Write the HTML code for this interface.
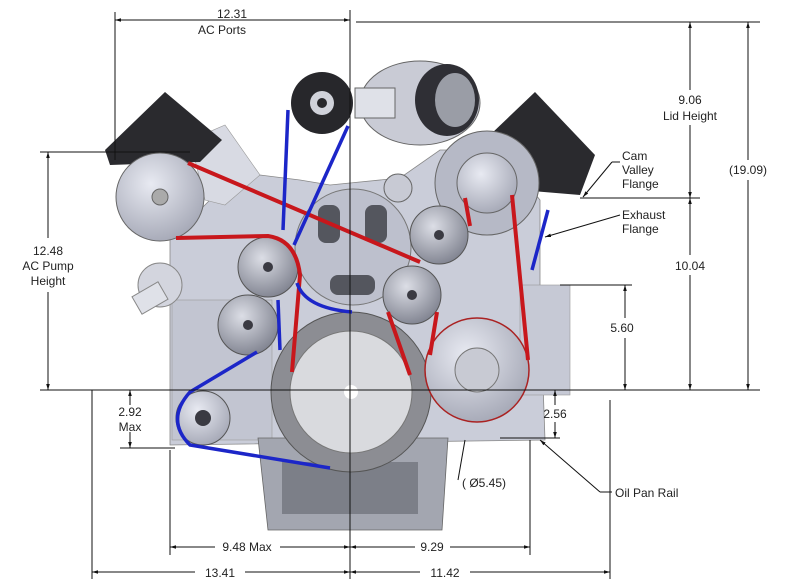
<!DOCTYPE html>
<html><head><style>
html,body{margin:0;padding:0;background:#fff;}
svg{display:block;}
text{font-family:"Liberation Sans",sans-serif;font-size:12px;fill:#222;}
</style></head><body>
<svg width="789" height="579" viewBox="0 0 789 579" xmlns="http://www.w3.org/2000/svg">
<defs>
<radialGradient id="pg" cx="40%" cy="35%" r="70%"><stop offset="0" stop-color="#e8eaf2"/><stop offset="1" stop-color="#a4a7b5"/></radialGradient>
<radialGradient id="ig" cx="40%" cy="35%" r="70%"><stop offset="0" stop-color="#dcdee6"/><stop offset="1" stop-color="#7e818e"/></radialGradient>
<marker id="ar" viewBox="0 0 10 10" refX="10" refY="5" markerWidth="6" markerHeight="6" orient="auto-start-reverse"><path d="M0 2 L10 5 L0 8 Z" fill="#111"/></marker>
</defs>
<!-- engine block -->
<path d="M170 240 L210 200 L260 175 L300 180 L330 185 L400 178 L440 150 L500 150 L540 200 L540 300 L545 440 L170 445 Z" fill="#cacdd9" stroke="#888" stroke-width="0.8"/>
<rect x="172" y="300" width="100" height="140" fill="#c2c5d1" stroke="#999" stroke-width="0.6"/>
<rect x="520" y="285" width="50" height="110" fill="#c6c9d5" stroke="#999" stroke-width="0.6"/>
<!-- oil pan -->
<path d="M258 438 L448 438 L442 530 L268 530 Z" fill="#a3a6b0" stroke="#666" stroke-width="0.8"/>
<rect x="282" y="462" width="136" height="52" fill="#7c7f88"/>
<!-- brackets -->
<polygon points="190,140 225,125 260,175 225,205 205,200" fill="#d8dae3" stroke="#999" stroke-width="0.6"/>
<!-- coil packs -->
<polygon points="105,150 165,92 222,140 200,162 110,165" fill="#2a2a2e"/>
<polygon points="490,135 535,92 595,155 580,195 520,190" fill="#2a2a2e"/>
<!-- water pump housing -->
<circle cx="353" cy="247" r="58" fill="#bdc0cd" stroke="#777"/>
<rect x="318" y="205" width="22" height="38" rx="8" fill="#54565e"/>
<rect x="365" y="205" width="22" height="38" rx="8" fill="#54565e"/>
<rect x="330" y="275" width="45" height="20" rx="8" fill="#54565e"/>
<circle cx="398" cy="188" r="14" fill="#c8cad4" stroke="#666"/>
<!-- thermostat -->
<circle cx="160" cy="285" r="22" fill="#d3d5de" stroke="#888"/>
<rect x="135" y="288" width="30" height="20" fill="#dfe1e8" stroke="#888" transform="rotate(-30 150 298)"/>
<!-- supercharger -->
<ellipse cx="420" cy="103" rx="60" ry="42" fill="#c9cbd5" stroke="#666"/>
<ellipse cx="447" cy="100" rx="32" ry="36" fill="#2f2f35"/>
<ellipse cx="455" cy="100" rx="20" ry="27" fill="#9a9da6"/>
<rect x="355" y="88" width="40" height="30" fill="#dfe1e8" stroke="#666"/>
<!-- top pulley -->
<circle cx="322" cy="103" r="31" fill="#27272b"/>
<circle cx="322" cy="103" r="12" fill="#d0d2da"/>
<circle cx="322" cy="103" r="5" fill="#27272b"/>
<!-- AC pump pulley -->
<circle cx="160" cy="197" r="44" fill="url(#pg)" stroke="#666"/>
<circle cx="160" cy="197" r="8" fill="#aaa" stroke="#666"/>
<!-- alternator -->
<circle cx="487" cy="183" r="52" fill="#b6b9c6" stroke="#666"/>
<circle cx="487" cy="183" r="30" fill="url(#pg)" stroke="#666"/>
<!-- idlers -->
<g stroke="#555">
<circle cx="268" cy="267" r="30" fill="url(#ig)"/>
<circle cx="248" cy="325" r="30" fill="url(#ig)"/>
<circle cx="439" cy="235" r="29" fill="url(#ig)"/>
<circle cx="412" cy="295" r="29" fill="url(#ig)"/>
<circle cx="203" cy="418" r="27" fill="url(#pg)"/>
</g>
<g fill="#3a3a42">
<circle cx="268" cy="267" r="5"/><circle cx="248" cy="325" r="5"/><circle cx="439" cy="235" r="5"/><circle cx="412" cy="295" r="5"/><circle cx="203" cy="418" r="8"/>
</g>
<!-- crank -->
<circle cx="351" cy="392" r="80" fill="#8c8d93" stroke="#555"/>
<circle cx="351" cy="392" r="61" fill="#d9dade" stroke="#777"/>
<circle cx="351" cy="392" r="7" fill="#fff"/>
<!-- PS pulley -->
<circle cx="477" cy="370" r="52" fill="url(#pg)" stroke="#a22" stroke-width="1.5"/>
<circle cx="477" cy="370" r="22" fill="#c8cad3" stroke="#777"/>
<!-- belts red -->
<g stroke="#c8171c" stroke-width="4" fill="none">
<line x1="188" y1="163" x2="420" y2="262"/>
<path d="M176 238 L268 236 Q296 240 300 275 L292 372"/>
<line x1="388" y1="312" x2="410" y2="375"/>
<line x1="437" y1="312" x2="430" y2="355"/>
<line x1="465" y1="198" x2="470" y2="226"/>
<line x1="512" y1="195" x2="528" y2="360"/>
</g>
<!-- belts blue -->
<g stroke="#1c26c8" stroke-width="3.5" fill="none">
<path d="M288 110 L283 230"/>
<path d="M348 126 L294 245"/>
<path d="M297 283 Q305 308 352 312"/>
<path d="M280 350 L278 300"/>
<path d="M257 352 L190 392 Q165 420 190 445 L330 468"/>
<line x1="548" y1="210" x2="532" y2="270"/>
</g>
<!-- dimension lines -->
<g stroke="#111" stroke-width="1" fill="none">
<line x1="350" y1="10" x2="350" y2="579"/>
<line x1="115" y1="12" x2="115" y2="160"/>
<line x1="115" y1="20" x2="350" y2="20" marker-start="url(#ar)" marker-end="url(#ar)"/>
<line x1="356" y1="22" x2="760" y2="22"/>
<line x1="40" y1="152" x2="190" y2="152"/>
<line x1="48" y1="152" x2="48" y2="238" marker-start="url(#ar)"/><line x1="48" y1="292" x2="48" y2="390" marker-end="url(#ar)"/>
<line x1="40" y1="390" x2="760" y2="390"/>
<line x1="690" y1="22" x2="690" y2="90" marker-start="url(#ar)"/><line x1="690" y1="125" x2="690" y2="198" marker-end="url(#ar)"/>
<line x1="580" y1="198" x2="700" y2="198"/>
<line x1="690" y1="198" x2="690" y2="255" marker-start="url(#ar)"/><line x1="690" y1="275" x2="690" y2="390" marker-end="url(#ar)"/>
<line x1="748" y1="22" x2="748" y2="160" marker-start="url(#ar)"/><line x1="748" y1="180" x2="748" y2="390" marker-end="url(#ar)"/>
<line x1="560" y1="285" x2="632" y2="285"/>
<line x1="625" y1="285" x2="625" y2="318" marker-start="url(#ar)"/><line x1="625" y1="338" x2="625" y2="390" marker-end="url(#ar)"/>
<line x1="555" y1="390" x2="555" y2="405" marker-start="url(#ar)"/><line x1="555" y1="422" x2="555" y2="438" marker-end="url(#ar)"/>
<line x1="500" y1="438" x2="560" y2="438"/>
<line x1="130" y1="390" x2="130" y2="405" marker-start="url(#ar)"/><line x1="130" y1="432" x2="130" y2="448" marker-end="url(#ar)"/>
<line x1="120" y1="448" x2="175" y2="448"/>
<line x1="92" y1="390" x2="92" y2="579"/>
<line x1="170" y1="450" x2="170" y2="555"/>
<line x1="530" y1="440" x2="530" y2="555"/>
<line x1="610" y1="400" x2="610" y2="579"/>
<line x1="170" y1="547" x2="215" y2="547" marker-start="url(#ar)"/><line x1="280" y1="547" x2="350" y2="547" marker-end="url(#ar)"/>
<line x1="350" y1="547" x2="415" y2="547" marker-start="url(#ar)"/><line x1="450" y1="547" x2="530" y2="547" marker-end="url(#ar)"/>
<line x1="92" y1="572" x2="195" y2="572" marker-start="url(#ar)"/><line x1="245" y1="572" x2="350" y2="572" marker-end="url(#ar)"/>
<line x1="350" y1="572" x2="420" y2="572" marker-start="url(#ar)"/><line x1="470" y1="572" x2="610" y2="572" marker-end="url(#ar)"/>
<line x1="612" y1="162" x2="583" y2="197" marker-end="url(#ar)"/><line x1="612" y1="162" x2="620" y2="162"/>
<line x1="620" y1="215" x2="545" y2="237" marker-end="url(#ar)"/>
<line x1="600" y1="492" x2="540" y2="440" marker-end="url(#ar)"/><line x1="600" y1="492" x2="612" y2="492"/>
<line x1="458" y1="480" x2="465" y2="440"/>
</g>
<g font-size="12">
<text x="232" y="18" text-anchor="middle">12.31</text>
<text x="222" y="34" text-anchor="middle">AC Ports</text>
<text x="48" y="255" text-anchor="middle">12.48</text>
<text x="48" y="270" text-anchor="middle">AC Pump</text>
<text x="48" y="285" text-anchor="middle">Height</text>
<text x="690" y="104" text-anchor="middle">9.06</text>
<text x="690" y="120" text-anchor="middle">Lid Height</text>
<text x="690" y="270" text-anchor="middle">10.04</text>
<text x="748" y="174" text-anchor="middle">(19.09)</text>
<text x="622" y="332" text-anchor="middle">5.60</text>
<text x="622" y="160">Cam</text>
<text x="622" y="174">Valley</text>
<text x="622" y="188">Flange</text>
<text x="622" y="219">Exhaust</text>
<text x="622" y="233">Flange</text>
<text x="555" y="418" text-anchor="middle">2.56</text>
<text x="130" y="416" text-anchor="middle">2.92</text>
<text x="130" y="431" text-anchor="middle">Max</text>
<text x="462" y="487">( Ø5.45)</text>
<text x="615" y="497">Oil Pan Rail</text>
<text x="247" y="551" text-anchor="middle">9.48 Max</text>
<text x="432" y="551" text-anchor="middle">9.29</text>
<text x="220" y="577" text-anchor="middle">13.41</text>
<text x="445" y="577" text-anchor="middle">11.42</text>
</g>
</svg>
</body></html>
